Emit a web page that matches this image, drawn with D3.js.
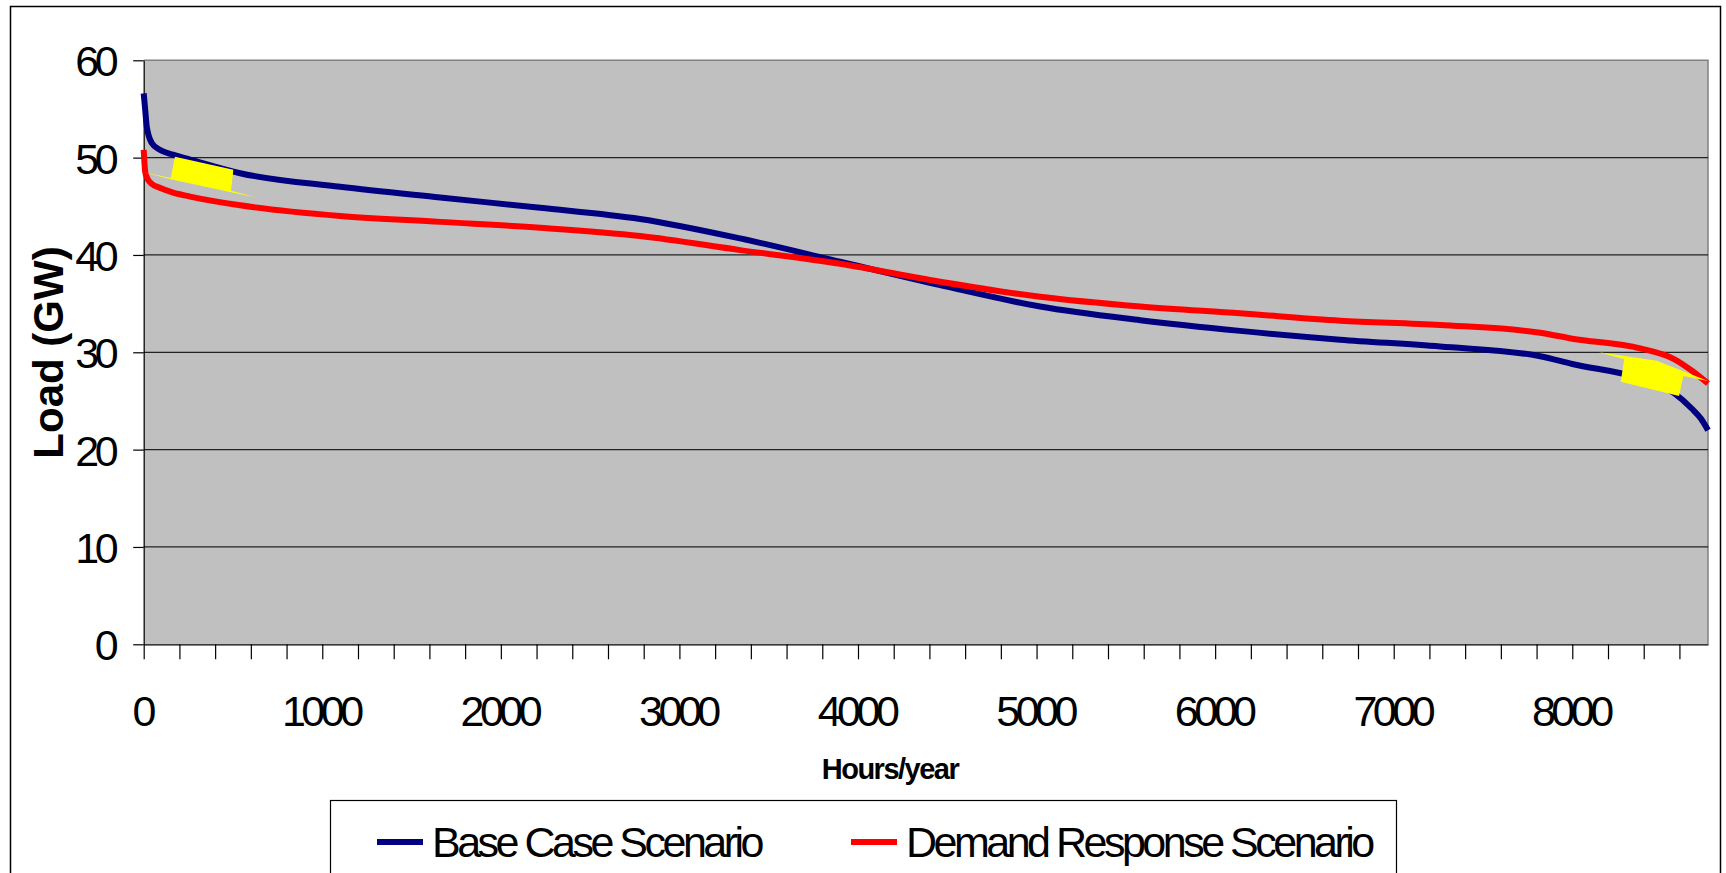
<!DOCTYPE html>
<html>
<head>
<meta charset="utf-8">
<script src="https://cdn.jsdelivr.net/npm/d3@7"></script>
<style>
  body { margin: 0; background: #fff; }
  svg { display: block; font-family: "Liberation Sans", Arial, sans-serif; }
</style>
</head>
<body>
<svg width="1726" height="873"></svg>
<script>
'use strict';

// load duration curves (hours sorted by load)
var hours    = [0, 8, 17, 45, 90, 165, 260, 540, 1100, 1660, 2220, 2780, 3340, 3900, 4460,
                5020, 5580, 6140, 6700, 7260, 7820, 8000, 8380, 8570, 8670, 8720, 8760];
var baseLoad = [56.6, 55.0, 53.2, 51.5, 50.8, 50.3, 49.8, 48.4, 47.0, 45.9, 44.85, 43.7, 41.7, 39.3, 36.9,
                34.7, 33.3, 32.2, 31.3, 30.6, 29.6, 28.8, 27.3, 25.8, 24.2, 23.2, 22.0];
var drLoad   = [50.8, 48.6, 48.0, 47.3, 46.9, 46.4, 46.0, 45.1, 44.0, 43.4, 42.8, 41.95, 40.5, 39.1, 37.25,
                35.7, 34.7, 34.0, 33.25, 32.8, 32.0, 31.4, 30.4, 29.3, 28.1, 27.4, 26.8];

var seriesNames = ['Base Case Scenario', 'Demand Response Scenario'];
var yTicks = [0, 10, 20, 30, 40, 50, 60];
var xLabels = [0, 1000, 2000, 3000, 4000, 5000, 6000, 7000, 8000];

// yellow arrow annotations, in [hours, GW]
var arrowLeft  = [[0, 48.5], [151, 47.9], [175, 50.1], [502, 48.75], [489, 46.6],
                  [634, 45.9], [489, 46.45], [151, 47.78]];
var arrowRight = [[8150, 30.0], [8473, 29.14], [8760, 27.05], [8622, 27.57], [8598, 25.51],
                  [8271, 26.98], [8291, 29.28]];

var svg = d3.select('svg');

var plotL = 143.7, plotR = 1708, plotT = 60.3, plotB = 644.3;
var x = d3.scaleLinear().domain([0, 8760]).range([plotL, plotR]);
var y = d3.scaleLinear().domain([0, 60]).range([plotB, plotT]);

// outer frame
svg.append('rect')
  .attr('x', 10.5).attr('y', 6.5).attr('width', 1710).attr('height', 900)
  .attr('fill', 'none').attr('stroke', '#000').attr('stroke-width', 1.5);

// plot area
svg.append('rect')
  .attr('x', plotL).attr('y', plotT).attr('width', plotR - plotL).attr('height', plotB - plotT)
  .attr('fill', '#c0c0c0');
svg.append('path')
  .attr('d', 'M' + plotL + ',' + plotT + 'H' + plotR + 'V' + plotB)
  .attr('fill', 'none').attr('stroke', '#808080').attr('stroke-width', 1.5);

// gridlines
svg.append('g').selectAll('line')
  .data(yTicks.filter(function(d){ return d > 0 && d < 60; }))
  .enter().append('line')
  .attr('x1', plotL).attr('x2', plotR)
  .attr('y1', function(d){ return y(d); }).attr('y2', function(d){ return y(d); })
  .attr('stroke', '#222').attr('stroke-width', 1.2);

// y axis
var yAxis = svg.append('g')
  .attr('transform', 'translate(' + plotL + ',0)')
  .call(d3.axisLeft(y).tickValues(yTicks).tickSize(10.5).tickPadding(19).tickSizeOuter(0));

// x axis
var xAxis = svg.append('g')
  .attr('transform', 'translate(0,' + plotB + ')')
  .call(d3.axisBottom(x).tickValues(d3.range(0, 8601, 200)).tickSize(15).tickPadding(36)
    .tickSizeOuter(0)
    .tickFormat(function(d){ return xLabels.indexOf(d) >= 0 ? d : ''; }));

svg.selectAll('.domain, .tick line').attr('stroke', '#000').attr('stroke-width', 1.2);
svg.selectAll('.tick text')
  .attr('fill', '#000')
  .style('font-size', '43px')
  .style('letter-spacing', '-4.5px');
yAxis.selectAll('.tick text').attr('dy', '0.36em');
xAxis.selectAll('.tick text').attr('dx', '-2');

// lines
var line = d3.line()
  .x(function(d){ return x(d[0]); })
  .y(function(d){ return y(d[1]); })
  .curve(d3.curveMonotoneX);

var series = [
  {name: seriesNames[0], color: '#000080', values: d3.zip(hours, baseLoad)},
  {name: seriesNames[1], color: '#ff0000', values: d3.zip(hours, drLoad)}
];

svg.append('g').selectAll('path')
  .data(series)
  .enter().append('path')
  .attr('d', function(s){ return line(s.values); })
  .attr('fill', 'none')
  .attr('stroke', function(s){ return s.color; })
  .attr('stroke-width', 6)
  .attr('stroke-linejoin', 'round');

// yellow arrows on top
svg.append('g').selectAll('polygon')
  .data([arrowLeft, arrowRight])
  .enter().append('polygon')
  .attr('points', function(p){
    return p.map(function(d){ return x(d[0]) + ',' + y(d[1]); }).join(' ');
  })
  .attr('fill', '#ffff00');

// axis titles
svg.append('text')
  .attr('transform', 'translate(63,352.5) rotate(-90)')
  .attr('text-anchor', 'middle')
  .style('font-size', '42px').style('font-weight', 'bold')
  .text('Load (GW)');

svg.append('text')
  .attr('x', 890).attr('y', 779)
  .attr('text-anchor', 'middle')
  .style('font-size', '29px').style('font-weight', 'bold').style('letter-spacing', '-1.5px')
  .text('Hours/year');

// legend
var legend = svg.append('g');
legend.append('rect')
  .attr('x', 330.5).attr('y', 800.5).attr('width', 1066).attr('height', 120)
  .attr('fill', '#fff').attr('stroke', '#000').attr('stroke-width', 1.2);

var legendX = [377, 851];
var item = legend.selectAll('g.item')
  .data(series)
  .enter().append('g')
  .attr('class', 'item')
  .attr('transform', function(s, i){ return 'translate(' + legendX[i] + ',842)'; });
item.append('line')
  .attr('x1', 0).attr('x2', 46)
  .attr('stroke', function(s){ return s.color; })
  .attr('stroke-width', 6);
item.append('text')
  .attr('x', 55).attr('dy', '0.36em')
  .style('font-size', '43px').style('letter-spacing', '-3.5px')
  .text(function(s){ return s.name; });
</script>
</body>
</html>
